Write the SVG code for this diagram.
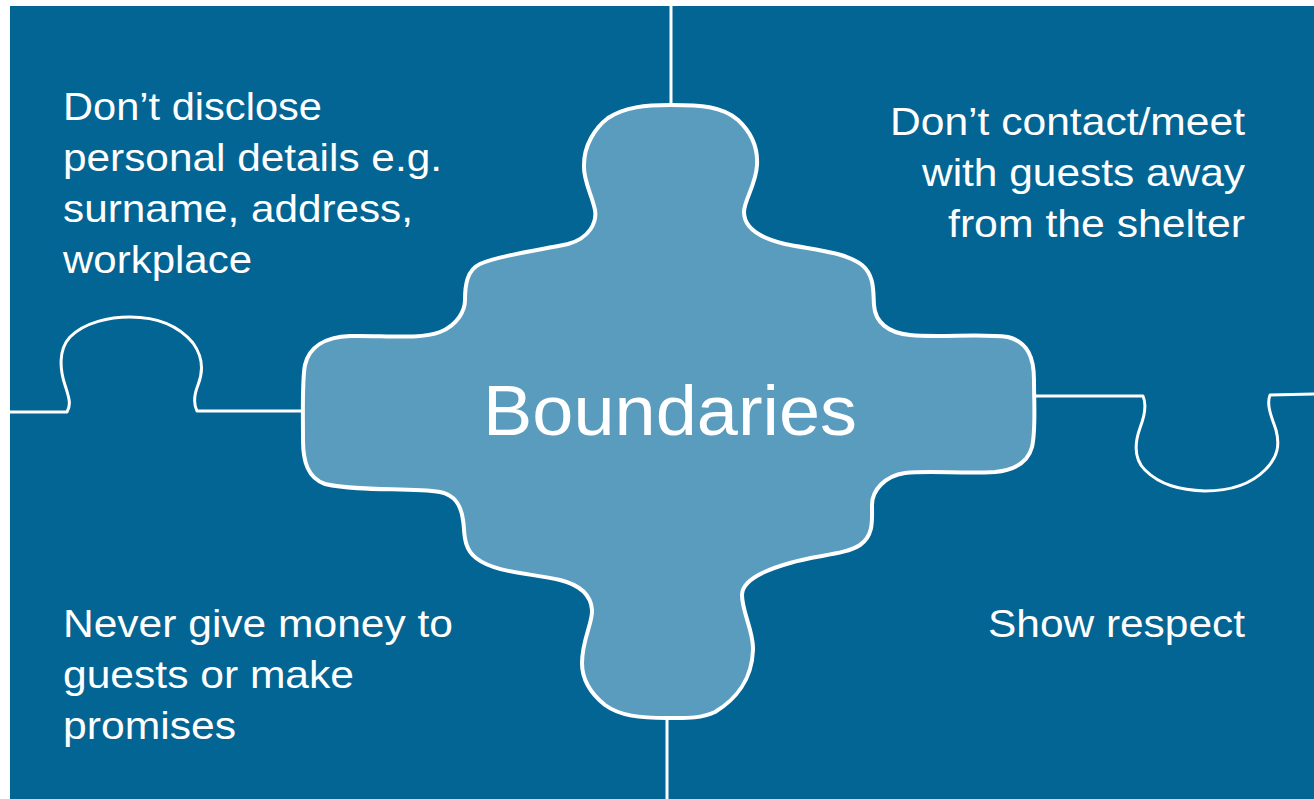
<svg xmlns="http://www.w3.org/2000/svg" width="1314" height="799" viewBox="0 0 1314 799">
<style>
.ln{fill:none;stroke:#fff;stroke-width:3;stroke-linejoin:round;stroke-linecap:butt}
.pc{fill:#5A9CBE;stroke:#fff;stroke-width:4;stroke-linejoin:round}
.t{font-family:"Liberation Sans",Arial,sans-serif;font-size:39px;fill:#fff}
.big{font-family:"Liberation Sans",Arial,sans-serif;font-size:70px;fill:#fff}
</style>
<rect x="0" y="0" width="1314" height="799" fill="#fff"/>
<rect id="background" x="10" y="6" width="1304" height="793" fill="#036594"/>
<g id="connectors">
<path class="ln" d="M671,6 L671,106"/>
<path class="ln" d="M667,717 L667,799"/>
<path class="ln" d="M10,412 L67,412 C72,404 68,395 65,385 C60,370 58,350 70,337 C85,322 110,317 130,317 C155,317 178,325 193,343 C203,357 204,370 198,385 C194,395 194,405 197,411 L304,411"/>
<path class="ln" d="M1032,396 L1143,396 C1147,405 1145,415 1140,428 C1135,442 1133,458 1145,470 C1160,485 1180,490 1205,491 C1230,491 1250,485 1265,470 C1278,457 1280,445 1276,430 C1272,418 1266,405 1270,395 L1314,394"/>
</g>
<g id="node-center">
<path class="pc" d="M671,105 C700,105 722,106 738,120 C752,133 758,148 757,165 C756,185 744,200 744,212 C744,228 760,238 785,244 C815,250 845,252 862,265 C875,276 873,292 874,305 C875,322 888,333 910,335 C940,338 980,333 1008,337 C1028,342 1034,358 1034,380 C1034,405 1036,430 1032,447 C1028,462 1015,470 995,472 C960,474 930,470 905,473 C885,476 872,490 872,505 C872,520 874,535 860,545 C845,555 815,555 790,563 C765,570 742,580 742,595 C742,612 754,632 753,650 C752,680 735,700 715,712 C700,719 685,718 667,718 C640,718 620,716 605,705 C590,693 582,680 582,663 C582,640 593,622 592,610 C591,595 580,585 560,580 C530,573 495,573 476,558 C462,547 465,530 463,520 C461,505 455,495 440,492 C410,487 360,492 325,484 C308,478 303,462 303,440 C303,410 302,380 305,365 C309,347 325,337 350,336 C380,335 420,340 440,332 C458,325 465,310 465,300 C465,285 467,270 480,264 C500,255 540,250 568,244 C590,238 597,222 595,210 C592,195 583,180 584,165 C584,145 595,128 608,118 C625,107 645,105 671,105 Z"/>
<text class="big" x="483" y="435" textLength="374" lengthAdjust="spacingAndGlyphs">Boundaries</text>
</g>
<g id="node-top-left">
<text class="t" x="63" y="120" textLength="259" lengthAdjust="spacingAndGlyphs">Don’t disclose</text>
<text class="t" x="63" y="171" textLength="379" lengthAdjust="spacingAndGlyphs">personal details e.g.</text>
<text class="t" x="63" y="222" textLength="350" lengthAdjust="spacingAndGlyphs">surname, address,</text>
<text class="t" x="63" y="273" textLength="189" lengthAdjust="spacingAndGlyphs">workplace</text>
</g>
<g id="node-top-right">
<text class="t" x="890" y="135" textLength="355" lengthAdjust="spacingAndGlyphs">Don’t contact/meet</text>
<text class="t" x="922" y="186" textLength="323" lengthAdjust="spacingAndGlyphs">with guests away</text>
<text class="t" x="948" y="237" textLength="297" lengthAdjust="spacingAndGlyphs">from the shelter</text>
</g>
<g id="node-bottom-left">
<text class="t" x="63" y="637" textLength="390" lengthAdjust="spacingAndGlyphs">Never give money to</text>
<text class="t" x="63" y="688" textLength="291" lengthAdjust="spacingAndGlyphs">guests or make</text>
<text class="t" x="63" y="739" textLength="173" lengthAdjust="spacingAndGlyphs">promises</text>
</g>
<g id="node-bottom-right">
<text class="t" x="988" y="637" textLength="257" lengthAdjust="spacingAndGlyphs">Show respect</text>
</g>
</svg>
